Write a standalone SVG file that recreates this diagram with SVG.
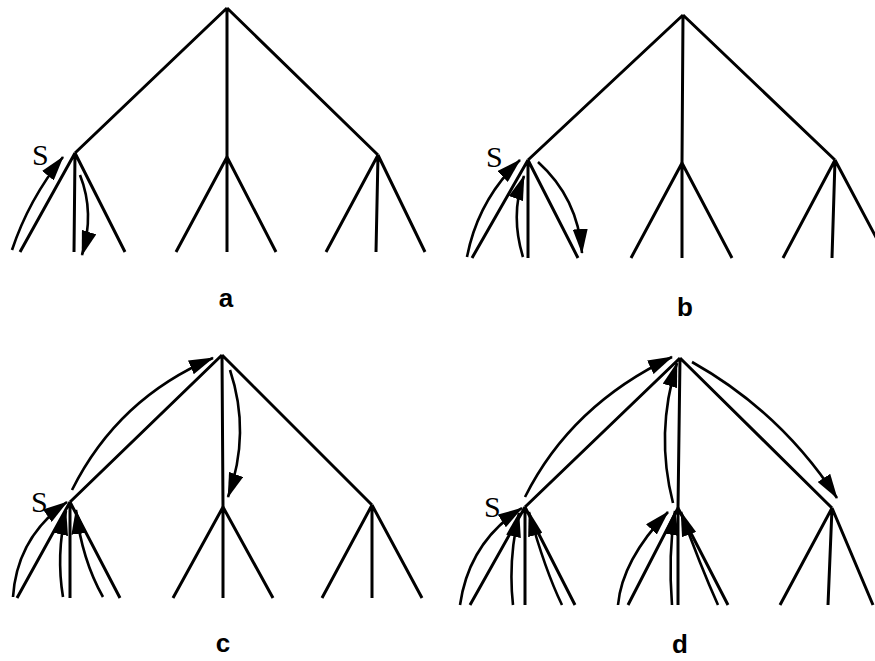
<svg xmlns="http://www.w3.org/2000/svg" width="875" height="661" viewBox="0 0 875 661">
<style>
.e{stroke:#000;stroke-width:3;fill:none;stroke-linecap:butt}
.ar{stroke:#000;stroke-width:2.6;fill:none;marker-end:url(#ah)}
.s{font-family:"Liberation Serif",serif;font-size:30px;fill:#000}
.lb{font-family:"Liberation Sans",Arial,sans-serif;font-size:26px;font-weight:bold;fill:#000;text-anchor:middle}
</style>
<defs>
<marker id="ah" markerUnits="userSpaceOnUse" viewBox="0 0 25 15" refX="24" refY="7.5" markerWidth="25" markerHeight="15" orient="auto">
<path d="M0,0 L25,7.5 L0,15 z" fill="#000"/>
</marker>
</defs>
<rect width="875" height="661" fill="#fff"/>

<g id="panel-a">
<g id="a-edges" class="connectors">
<path class="e" d="M227,8 L75,153 M227,8 L227,157 M227,8 L378,155"/>
<path class="e" d="M75,153 L20,252 M75,153 L74,252 M75,153 L125,252"/>
<path class="e" d="M227,157 L176,252 M227,157 L227,252 M227,157 L276,252"/>
<path class="e" d="M378,155 L326,252 M378,155 L376,252 M378,155 L425,252"/>
</g>
<g id="a-arrows" class="connectors">
<path class="ar" d="M12,250 Q29,199 63,157"/>
<path class="ar" d="M80,175 Q95,213 82,255"/>
</g>
<text class="s" x="32" y="165">S</text>
<text class="lb" x="226" y="307">a</text>
</g>

<g id="panel-b">
<g id="b-edges" class="connectors">
<path class="e" d="M683,15 L528,160 M683,15 L682,163 M683,15 L835,160"/>
<path class="e" d="M528,160 L472,258 M528,160 L528,258 M528,160 L578,258"/>
<path class="e" d="M682,163 L631,258 M682,163 L682,258 M682,163 L732,258"/>
<path class="e" d="M835,160 L783,258 M835,160 L832,258 M835,160 L887,258"/>
</g>
<g id="b-arrows" class="connectors">
<path class="ar" d="M467,257 Q478,200 520,160"/>
<path class="ar" d="M523,257 Q510,215 524,176"/>
<path class="ar" d="M538,162 Q578,198 582,253"/>
</g>
<text class="s" x="486" y="167">S</text>
<text class="lb" x="685" y="316">b</text>
</g>

<g id="panel-c">
<g id="c-edges" class="connectors">
<path class="e" d="M222,355 L70,502 M222,355 L223,507 M222,355 L372,505"/>
<path class="e" d="M70,502 L17,598 M70,502 L70,598 M70,502 L120,598"/>
<path class="e" d="M223,507 L173,598 M223,507 L223,598 M223,507 L273,598"/>
<path class="e" d="M372,505 L322,598 M372,505 L372,598 M372,505 L422,598"/>
</g>
<g id="c-arrows" class="connectors">
<path class="ar" d="M13,597 Q17,537 67,502"/>
<path class="ar" d="M63,597 Q56,555 66,511"/>
<path class="ar" d="M103,597 Q82,560 76,510"/>
<path class="ar" d="M72,490 Q118,398 213,358"/>
<path class="ar" d="M230,370 Q251,433 228,497"/>
</g>
<text class="s" x="31" y="512">S</text>
<text class="lb" x="223" y="652">c</text>
</g>

<g id="panel-d">
<g id="d-edges" class="connectors">
<path class="e" d="M680,358 L525,507 M680,358 L678,508 M680,358 L832,508"/>
<path class="e" d="M525,507 L470,605 M525,507 L525,605 M525,507 L575,605"/>
<path class="e" d="M678,508 L628,605 M678,508 L678,605 M678,508 L728,605"/>
<path class="e" d="M832,508 L780,605 M832,508 L828,605 M832,508 L873,605"/>
</g>
<g id="d-arrows" class="connectors">
<path class="ar" d="M460,605 Q469,542 522,508"/>
<path class="ar" d="M513,605 Q508,560 519,513"/>
<path class="ar" d="M562,605 Q545,570 529,512"/>
<path class="ar" d="M525,497 Q571,405 672,357"/>
<path class="ar" d="M673,503 Q655,433 677,363"/>
<path class="ar" d="M692,362 Q781,412 837,498"/>
<path class="ar" d="M618,605 Q622,560 668,512"/>
<path class="ar" d="M672,605 Q668,555 675,511"/>
<path class="ar" d="M718,605 Q700,565 681,512"/>
</g>
<text class="s" x="484" y="517">S</text>
<text class="lb" x="680" y="653">d</text>
</g>
</svg>
